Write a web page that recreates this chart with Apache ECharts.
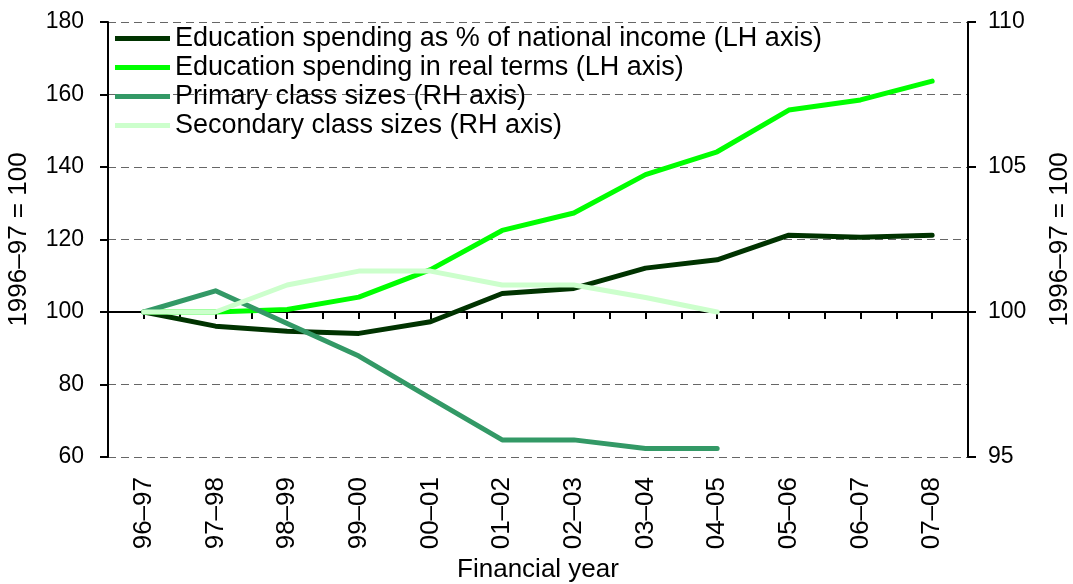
<!DOCTYPE html>
<html>
<head>
<meta charset="utf-8">
<script src="https://cdn.jsdelivr.net/npm/echarts@6/dist/echarts.min.js"></script>
<style>
html, body { margin: 0; padding: 0; background: #fff; }
#chart { width: 1073px; height: 584px; }
</style>
</head>
<body>
<div id="chart"></div>
<script>
// financial years on the x axis
var years = ['96–97', '97–98', '98–99', '99–00', '00–01', '01–02', '02–03', '03–04', '04–05', '05–06', '06–07', '07–08'];

// LH axis series (1996-97 = 100)
var pctNationalIncome = [100, 96.1, 94.7, 94.1, 97.3, 105.1, 106.5, 112.1, 114.4, 121.2, 120.6, 121.2];
var realTerms = [100, 100, 100.7, 104.1, 111.7, 122.5, 127.3, 137.9, 144.2, 155.7, 158.5, 163.7];

// RH axis series (1996-97 = 100)
var primarySizes = [100, 100.73, 99.6, 98.48, 97.03, 95.59, 95.59, 95.29, 95.29, null, null, null];
var secondarySizes = [100, 100, 100.93, 101.41, 101.41, 100.93, 100.93, 100.5, 100, null, null, null];

var FONT = "'Liberation Sans', Arial, sans-serif";

var myChart = echarts.init(document.getElementById('chart'));

function lineSeries(name, data, color, yIdx) {
    return {
        name: name,
        type: 'line',
        yAxisIndex: yIdx,
        data: data,
        symbol: 'none',
        color: color,
        lineStyle: { color: color, width: 5, cap: 'round', join: 'round' },
        emphasis: { disabled: true }
    };
}

var option = {
    animation: false,
    textStyle: { fontFamily: FONT },
    grid: { left: 108, right: 105, top: 22, bottom: 127, outerBoundsMode: 'none' },
    legend: {
        orient: 'vertical',
        left: 110,
        top: 20,
        icon: 'rect',
        itemWidth: 55,
        itemHeight: 5,
        itemGap: 2,
        textStyle: { fontFamily: FONT, fontSize: 27, color: '#000' },
        data: [
            'Education spending as % of national income (LH axis)',
            'Education spending in real terms (LH axis)',
            'Primary class sizes (RH axis)',
            'Secondary class sizes (RH axis)'
        ]
    },
    xAxis: [
        {
            type: 'category',
            data: years,
            boundaryGap: true,
            axisLine: { show: false },
            axisTick: { show: false },
            axisLabel: {
                rotate: 90,
                interval: 0,
                margin: 20,
                fontSize: 26,
                color: '#000',
                fontFamily: FONT
            },
            name: 'Financial year',
            nameLocation: 'middle',
            nameGap: 100,
            nameMoveOverlap: false,
            nameTextStyle: { fontSize: 26, color: '#000', fontFamily: FONT }
        },
        {
            // horizontal line at 100 with half-category ticks
            type: 'value',
            min: 0,
            max: 24,
            interval: 1,
            position: 'bottom',
            offset: -145,
            axisLine: { show: true, lineStyle: { color: '#000', width: 2 } },
            axisTick: { show: true, length: 7, lineStyle: { color: '#000', width: 2 } },
            axisLabel: { show: false },
            splitLine: { show: false }
        }
    ],
    yAxis: [
        {
            type: 'value',
            min: 60,
            max: 180,
            interval: 20,
            position: 'left',
            axisLine: { show: true, lineStyle: { color: '#000', width: 2 } },
            axisTick: { show: true, length: 8, lineStyle: { color: '#000', width: 2 } },
            axisLabel: { fontSize: 23, color: '#000', margin: 24, fontFamily: FONT },
            splitLine: { show: true, lineStyle: { color: '#666', width: 1, type: [8, 5] } },
            name: '1996–97 = 100',
            nameLocation: 'middle',
            nameGap: 76,
            nameMoveOverlap: false,
            nameTextStyle: { fontSize: 26, color: '#000', fontFamily: FONT }
        },
        {
            type: 'value',
            min: 95,
            max: 110,
            interval: 5,
            position: 'right',
            axisLine: { show: true, lineStyle: { color: '#000', width: 2 } },
            axisTick: { show: true, length: 8, lineStyle: { color: '#000', width: 2 } },
            axisLabel: { fontSize: 23, color: '#000', margin: 20, fontFamily: FONT },
            splitLine: { show: false },
            name: '1996–97 = 100',
            nameLocation: 'middle',
            nameGap: 79,
            nameRotate: 90,
            nameMoveOverlap: false,
            nameTextStyle: { fontSize: 26, color: '#000', fontFamily: FONT }
        }
    ],
    series: [
        lineSeries('Education spending as % of national income (LH axis)', pctNationalIncome, '#003300', 0),
        lineSeries('Education spending in real terms (LH axis)', realTerms, '#00FF00', 0),
        lineSeries('Primary class sizes (RH axis)', primarySizes, '#339966', 1),
        lineSeries('Secondary class sizes (RH axis)', secondarySizes, '#CCFFCC', 1)
    ]
};

myChart.setOption(option);
window.addEventListener('resize', function () {
    myChart.resize();
});
</script>
</body>
</html>
